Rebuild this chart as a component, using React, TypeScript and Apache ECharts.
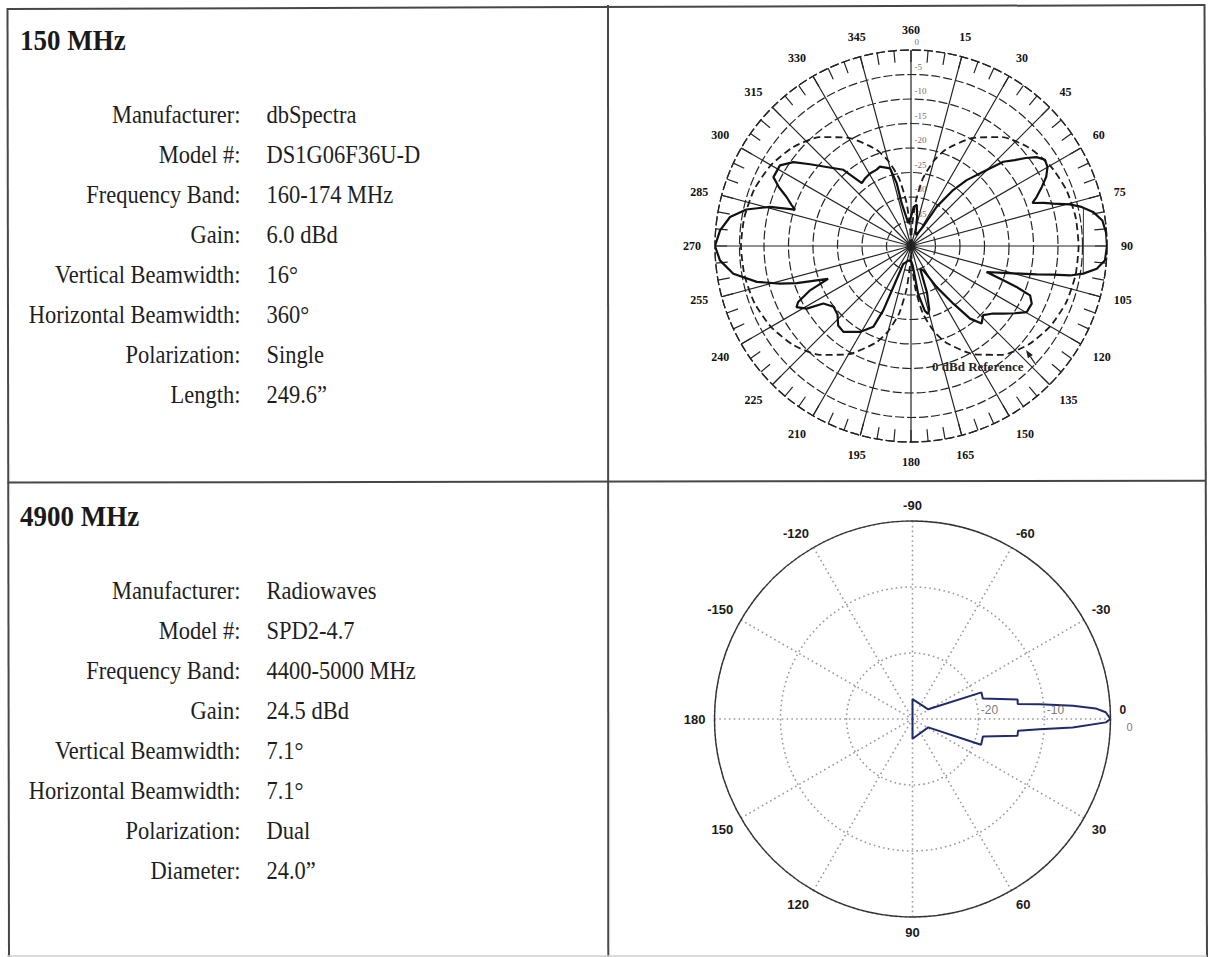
import React, { useEffect, useRef } from 'react';
import * as echarts from 'echarts';

const W = 1209;
const H = 957;
const SERIF = '"Liberation Serif", "Times New Roman", serif';
const SANS = '"Liberation Sans", Arial, sans-serif';

// ---------- left panel texts ----------
const TITLE_150 = '150 MHz';
const LABELS_150 = ['Manufacturer:', 'Model #:', 'Frequency Band:', 'Gain:', 'Vertical Beamwidth:', 'Horizontal Beamwidth:', 'Polarization:', 'Length:'];
const VALUES_150 = ['dbSpectra', 'DS1G06F36U-D', '160-174 MHz', '6.0 dBd', '16°', '360°', 'Single', '249.6”'];

const TITLE_4900 = '4900 MHz';
const LABELS_4900 = ['Manufacturer:', 'Model #:', 'Frequency Band:', 'Gain:', 'Vertical Beamwidth:', 'Horizontal Beamwidth:', 'Polarization:', 'Diameter:'];
const VALUES_4900 = ['Radiowaves', 'SPD2-4.7', '4400-5000 MHz', '24.5 dBd', '7.1°', '7.1°', 'Dual', '24.0”'];

// ---------- 150 MHz elevation pattern (dB vs angle, 0° at top, clockwise) ----------
const ANGLE_TICKS_150 = ['360', '15', '30', '45', '60', '75', '90', '105', '120', '135', '150', '165', '180', '195', '210', '225', '240', '255', '270', '285', '300', '315', '330', '345'];
const RADIAL_TICKS_150 = [0, -5, -10, -15, -20, -25, -30, -35];
const REFERENCE_LABEL = '0 dBd Reference';

const PATTERN_150_ANGLE = [0, 4, 8, 12, 18, 26, 31.9, 33.2, 37, 40.2, 44.9, 47.6, 50.4, 52.5, 54.7, 57.2, 59.9, 62.9, 65.7, 68.7, 70.5, 72, 73.4, 75.3, 77.1, 79.4, 82.4, 86, 90, 94.2, 97, 99.1, 100.5, 101.4, 102.7, 104.2, 106.3, 109, 110.4, 111.2, 112.5, 115.5, 119.7, 123, 126.2, 130, 133.8, 137.7, 140.9, 143.7, 148, 153, 158, 161, 164, 166, 168, 171.5, 175, 180, 190, 198, 203.4, 203.3, 203.3, 205, 210.7, 218.2, 222.5, 227, 231.9, 236.7, 239, 241.9, 243.6, 246.3, 248.4, 250, 252, 254, 256.9, 261.1, 265.7, 270, 274.7, 279.1, 282.5, 285.5, 287.4, 289, 291.5, 294, 296.6, 301.6, 305.5, 309, 313.1, 318.4, 322, 326, 330.5, 335.8, 338.6, 344.9, 347.2, 347.7, 353.2, 360];
const PATTERN_150_DB = [-34, -32, -31.5, -34, -37, -37.5, -35.4, -30.4, -25.7, -22.4, -18.1, -14.5, -12.5, -10.5, -8.6, -7.5, -7.8, -9.0, -10.7, -12.5, -13.7, -11.5, -9.7, -6.5, -4.3, -2.2, -0.6, -0.1, 0, -0.3, -1.8, -4.4, -7.0, -10.4, -13.7, -17.0, -20.4, -23.7, -19.9, -16.9, -13.7, -12.7, -12.8, -14.8, -16.6, -18.5, -19.6, -18.6, -20.9, -25.4, -30.1, -34.4, -35, -30, -26.5, -25.7, -26.5, -30, -36, -37, -37, -36.5, -36, -30.9, -25.7, -21.8, -19.6, -17.7, -18.0, -19.5, -19.9, -18.6, -15.2, -13.5, -14.3, -17.5, -21.8, -19.5, -15.5, -12.2, -7.7, -3.3, -0.9, 0, -0.9, -2.6, -5.6, -10.1, -15.2, -14.2, -12.7, -10.5, -8.6, -8.6, -10.5, -13.5, -16.4, -19.2, -23.7, -23.3, -23.0, -22.9, -22.6, -23.6, -26.9, -31.1, -35.3, -34];

const DIPOLE_ANGLE = [0, 3, 6, 10, 15, 20, 30, 40, 50, 60, 70, 80, 90, 100, 110, 120, 130, 140, 150, 160, 165, 170, 174, 177, 180, 183, 186, 190, 195, 200, 210, 220, 230, 240, 250, 260, 270, 280, 290, 300, 310, 320, 330, 340, 345, 350, 354, 357, 360];
const DIPOLE_DB = [-40, -36, -31, -26, -22, -19, -14.5, -11, -8.7, -7.2, -6.3, -5.9, -5.8, -5.9, -6.3, -7.2, -8.7, -11, -14.5, -19, -22, -26, -31, -36, -40, -36, -31, -26, -22, -19, -14.5, -11, -8.6, -7.0, -6.0, -5.5, -5.3, -5.5, -6.0, -7.0, -8.6, -11, -14.5, -19, -22, -26, -31, -36, -40];

const BRACKET_ANGLE = [77.8, 99.1];
const BRACKET_DB = [-4.0, -4.4];

// ---------- 4900 MHz pattern (dB vs angle, 0° at right, clockwise, -180..180) ----------
const ANGLE_TICKS_4900 = ['0', '30', '60', '90', '120', '150', '180', '-150', '-120', '-90', '-60', '-30'];
const RADIAL_TICKS_4900 = [-20, -10, 0];
const PATTERN_4900_ANGLE = [0, -2, -3.3, -4.7, -6.6, -8.1, -10.5, -16.3, -21.1, -31.7, -90, 180, 90, 28, 20.6, 14, 9.1, 6.3, 4.6, 3, 1, 0];
const PATTERN_4900_DB = [0, -0.7, -2.2, -5.6, -10.6, -13.9, -13.8, -18.9, -18.8, -27.2, -27, -30, -27, -27.3, -18.9, -19, -13.9, -13.9, -10.7, -5.7, -0.7, 0];

function panelTexts(title: string, labels: string[], values: string[], titleBase: number, rowBase: number) {
  const els: any[] = [];
  const sy = 1.12;
  els.push({
    type: 'text', x: 20, y: titleBase - 0.3375 * 27 * sy, scaleY: sy,
    style: { text: title, font: `bold 27px ${SERIF}`, fill: '#1a1a1a', align: 'left', textAlign: 'left', verticalAlign: 'middle', textVerticalAlign: 'middle' },
  });
  labels.forEach((t, i) => {
    const yc = rowBase + 40 * i - 0.3375 * 22.5 * sy;
    els.push({
      type: 'text', x: 240.5, y: yc, scaleY: sy,
      style: { text: t, font: `22.5px ${SERIF}`, fill: '#1e1e1e', align: 'right', textAlign: 'right', verticalAlign: 'middle', textVerticalAlign: 'middle' },
    });
    els.push({
      type: 'text', x: 266.5, y: yc, scaleY: sy,
      style: { text: values[i], font: `22.5px ${SERIF}`, fill: '#1e1e1e', align: 'left', textAlign: 'left', verticalAlign: 'middle', textVerticalAlign: 'middle' },
    });
  });
  return els;
}

function buildOption() {
  const lineStyle = { stroke: '#474747', lineWidth: 2 };
  const graphics: any[] = [
    { type: 'line', shape: { x1: 7, y1: 9, x2: 1205, y2: 5 }, style: lineStyle },
    { type: 'line', shape: { x1: 7.5, y1: 8, x2: 9, y2: 957 }, style: lineStyle },
    { type: 'line', shape: { x1: 608, y1: 5, x2: 608.3, y2: 957 }, style: lineStyle },
    { type: 'line', shape: { x1: 1204.5, y1: 4, x2: 1207, y2: 957 }, style: lineStyle },
    { type: 'line', shape: { x1: 7.5, y1: 482.5, x2: 1206, y2: 480.7 }, style: lineStyle },
    { type: 'line', shape: { x1: 7, y1: 956, x2: 1207, y2: 956 }, style: { stroke: '#cfcfcf', lineWidth: 1.5 } },
    ...panelTexts(TITLE_150, LABELS_150, VALUES_150, 49.3, 122.7),
    ...panelTexts(TITLE_4900, LABELS_4900, VALUES_4900, 526, 599.3),
    {
      type: 'text', x: 932, y: 366, z: 20,
      style: { text: REFERENCE_LABEL, font: `bold 13px ${SERIF}`, fill: '#222', align: 'left', textAlign: 'left', verticalAlign: 'middle', textVerticalAlign: 'middle' },
    },
    { type: 'polygon', z: 20, shape: { points: [[1026, 350], [1032.9, 354.9], [1027.9, 358.3]] }, style: { fill: '#222' } },
    { type: 'line', z: 20, shape: { x1: 1030.4, y1: 356.6, x2: 1036, y2: 365 }, style: { stroke: '#222', lineWidth: 1.3 } },
  ];

  const darkLine = { color: '#242424', width: 1.2 };

  return {
    animation: false,
    backgroundColor: '#ffffff',
    graphic: graphics,
    polar: [
      { center: [911, 246], radius: 196 },
      { center: [912.5, 719], radius: 198 },
    ],
    angleAxis: [
      {
        polarIndex: 0, type: 'value', min: 0, max: 360, interval: 15, startAngle: 90, clockwise: true,
        axisLine: { show: true, lineStyle: { color: '#242424', width: 1.3, type: [9, 3] } },
        axisTick: { show: true, inside: true, length: 12, lineStyle: darkLine },
        minorTick: { show: true, splitNumber: 3, length: 12, lineStyle: darkLine },
        splitLine: { show: true, lineStyle: darkLine },
        axisLabel: {
          show: true, margin: 14, fontFamily: SERIF, fontSize: 12, fontWeight: 'bold', color: '#111',
          formatter: (v: number) => ANGLE_TICKS_150[Math.round(v / 15) % 24],
        },
      },
      {
        polarIndex: 1, type: 'value', min: 0, max: 360, interval: 30, startAngle: 0, clockwise: true,
        axisLine: { show: true, lineStyle: { color: '#333', width: 1.4 } },
        axisTick: { show: false },
        splitLine: { show: true, lineStyle: { color: '#9a9a9a', width: 1.6, type: [1.6, 3.2] } },
        axisLabel: {
          show: true, margin: 9, fontFamily: SANS, fontSize: 13, fontWeight: 'bold', color: '#1a1a1a',
          formatter: (v: number) => {
            const t = ANGLE_TICKS_4900[Math.round(v / 30) % 12];
            return t === '0' ? '{up|0}' : t;
          },
          rich: { up: { fontFamily: SANS, fontSize: 12, fontWeight: 'bold', color: '#1a1a1a', padding: [0, 0, 18, 0] } },
        },
      },
    ],
    radiusAxis: [
      {
        polarIndex: 0, type: 'value', min: -40, max: 0, interval: 5,
        axisLine: { show: false }, axisTick: { show: false }, axisLabel: { show: false },
        splitLine: { show: true, lineStyle: { color: '#242424', width: 1.2, type: [9, 3] } },
      },
      {
        polarIndex: 1, type: 'value', min: -30, max: 0, interval: 10,
        axisLine: { show: false }, axisTick: { show: false }, axisLabel: { show: false },
        splitLine: { show: true, lineStyle: { color: '#9a9a9a', width: 1.6, type: [1.6, 3.2] } },
      },
    ],
    series: [
      {
        type: 'line', coordinateSystem: 'polar', polarIndex: 0, name: 'Reference',
        data: DIPOLE_DB.map((d, i) => [d, DIPOLE_ANGLE[i]]),
        symbol: 'none', smooth: 0.2, z: 4,
        lineStyle: { color: '#1c1c1c', width: 1.8, type: [7, 4] },
      },
      {
        type: 'line', coordinateSystem: 'polar', polarIndex: 0, name: 'Pattern',
        data: PATTERN_150_DB.map((d, i) => [d, PATTERN_150_ANGLE[i]]),
        symbol: 'none', z: 5,
        lineStyle: { color: '#111', width: 2.2 },
      },
      {
        type: 'line', coordinateSystem: 'polar', polarIndex: 0, name: 'Bracket',
        data: BRACKET_DB.map((d, i) => [d, BRACKET_ANGLE[i]]),
        symbol: 'none', z: 5,
        lineStyle: { color: '#333', width: 1 },
      },
      {
        type: 'scatter', coordinateSystem: 'polar', polarIndex: 0, name: 'radial labels 150',
        data: RADIAL_TICKS_150.map((v) => [v, 0]),
        symbolSize: 1, itemStyle: { color: 'rgba(0,0,0,0)' }, z: 6,
        label: {
          show: true, position: 'inside', align: 'left', offset: [3.5, -8],
          fontFamily: SERIF, fontSize: 9, color: '#444',
          formatter: (p: any) => String(p.value[0]),
        },
      },
      {
        type: 'line', coordinateSystem: 'polar', polarIndex: 1, name: 'Pattern 4900',
        data: PATTERN_4900_DB.map((d, i) => [d, PATTERN_4900_ANGLE[i] < 0 ? PATTERN_4900_ANGLE[i] + 360 : PATTERN_4900_ANGLE[i]]),
        symbol: 'none', z: 5,
        lineStyle: { color: '#1f2a6e', width: 2 },
      },
      {
        type: 'scatter', coordinateSystem: 'polar', polarIndex: 1, name: 'radial labels 4900',
        data: RADIAL_TICKS_4900.map((v) => ({
          value: [v, 0],
          label: v === 0 ? { offset: [19, 8], fontSize: 11 } : { offset: [11, -9] },
        })),
        symbolSize: 1, itemStyle: { color: 'rgba(0,0,0,0)' }, z: 6,
        label: {
          show: true, position: 'inside', align: 'center',
          fontFamily: SANS, fontSize: 12, color: '#555',
          formatter: (p: any) => String(p.value[0]),
        },
      },
    ],
  };
}

export default function App() {
  const ref = useRef<HTMLDivElement>(null);
  useEffect(() => {
    if (!ref.current) return;
    const chart = echarts.init(ref.current, null, { renderer: 'svg', width: W, height: H });
    chart.setOption(buildOption() as any);
    return () => chart.dispose();
  }, []);
  return (
    <div
      ref={ref}
      style={{ position: 'absolute', left: 0, top: 0, width: W, height: H, background: '#fff' }}
    />
  );
}
